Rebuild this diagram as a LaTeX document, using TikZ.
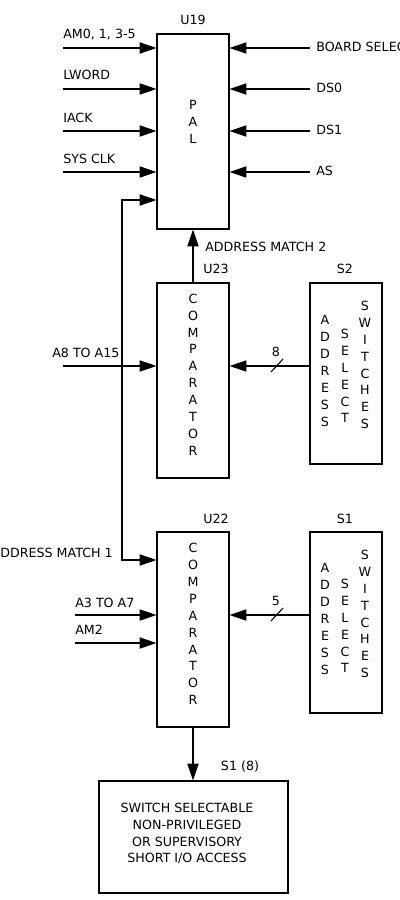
\documentclass[tikz,border=0pt]{standalone}
\usepackage{fontspec}
\setmainfont{DejaVu Sans}
\usetikzlibrary{arrows.meta}

\begin{document}
\begin{tikzpicture}
		[x=0.025cm,y=-0.025cm,
		font=\fontsize{9}{12}\selectfont,
		chip/.style={draw,thick,minimum width=1.8cm,inner sep=0pt},
		sig/.style={-{Triangle[length=0.42cm,width=0.28cm]},thick},
		sigs/.style={{Triangle[length=0.42cm,width=0.28cm]}-{Triangle[length=0.42cm,width=0.28cm]},thick},
		letters/.style={align=center,inner sep=0pt},
		lbl/.style={inner sep=0pt}]
		
		\useasboundingbox (0,0) rectangle (400,900);
		
		% boxes
		\node[chip,minimum height=4.875cm] (u19) at (193,131.5) {};
		\node[chip,minimum height=4.875cm] (u23) at (193,380.5) {};
		\node[chip,minimum height=4.875cm] (u22) at (193,629.5) {};
		\node[chip,minimum height=4.525cm] (s2) at (346,373.5) {};
		\node[chip,minimum height=4.525cm] (s1) at (346,622.5) {};
		\node[chip,minimum width=4.725cm,minimum height=2.8cm] (acc) at (193.5,837) {};
		
		\node[lbl] (u19name) at (193,20) {U19};
		\node[lbl] (u23name) at (216,269) {U23};
		\node[lbl] (u22name) at (216,519) {U22};
		\node[lbl] (s2name) at (345,269) {S2};
		\node[lbl] (s1name) at (345,519) {S1};
		
		\node[letters] (pal) at (193,122) {P\\A\\L};
		\node[letters] (cmp2) at (193,374.5) {C\\O\\M\\P\\A\\R\\A\\T\\O\\R};
		\node[letters] (cmp1) at (193,624) {C\\O\\M\\P\\A\\R\\A\\T\\O\\R};
		
		\node[letters] (adr2) at (325,371) {A\\D\\D\\R\\E\\S\\S};
		\node[letters] (sel2) at (345,376) {S\\E\\L\\E\\C\\T};
		\node[letters] (swi2) at (365,365) {S\\W\\I\\T\\C\\H\\E\\S};
		\node[letters] (adr1) at (325,619) {A\\D\\D\\R\\E\\S\\S};
		\node[letters] (sel1) at (345,626) {S\\E\\L\\E\\C\\T};
		\node[letters] (swi1) at (365,614) {S\\W\\I\\T\\C\\H\\E\\S};
		
		\node[letters] (acctext) at (187,833.5) {SWITCH SELECTABLE\\NON-PRIVILEGED\\OR SUPERVISORY\\SHORT I/O ACCESS};
		
		% PAL inputs, left side
		\foreach \n/\t/\y in {am/{AM0, 1, 3-5}/48, lw/LWORD/89, ia/IACK/131, sc/SYS CLK/172}{
			\coordinate (\n) at (63,\y);
			\draw[sig] (\n) -- (\n -| u19.west);
			\node[lbl,anchor=base west] at (63,\y-9) {\t};
		}
		
		% PAL inputs, right side
		\foreach \n/\t/\y in {bs/BOARD SELECT/48, dz/DS0/89, do/DS1/131, as/AS/172}{
			\coordinate (\n) at (310,\y);
			\draw[sig] (\n) -- (\n -| u19.east);
			\node[lbl,anchor=mid west] at (316,\y) {\t};
		}
		
		% address match 1 loop
		\coordinate (m1a) at (157,200);
		\coordinate (m1b) at (122,560);
		\draw[sigs] (m1a -| u19.west) -| (m1b) -- (m1b -| u22.west);
		\node[lbl,anchor=base east] (m1) at (113,557) {ADDRESS MATCH 1};
		
		% address match 2
		\draw[sig] (u23.north) -- (u19.south);
		\node[lbl,anchor=west] (m2) at (205,247) {ADDRESS MATCH 2};
		
		% comparator inputs
		\coordinate (a8) at (63,366);
		\draw[sig] (a8) -- (a8 -| u23.west);
		\node[lbl,anchor=base west] at (52,357) {A8 TO A15};
		
		\coordinate (a3) at (75,615);
		\draw[sig] (a3) -- (a3 -| u22.west);
		\node[lbl,anchor=base west] at (75,607) {A3 TO A7};
		
		\coordinate (a2) at (75,643);
		\draw[sig] (a2) -- (a2 -| u22.west);
		\node[lbl,anchor=base west] at (75,634) {AM2};
		
		% switch buses
		\draw[sig] (s2.west |- a8) -- (u23.east |- a8);
		\draw[thick] (271,372) -- (283,359);
		\node[lbl] at (276,352) {8};
		
		\draw[sig] (s1.west |- a3) -- (u22.east |- a3);
		\draw[thick] (271,621) -- (283,608);
		\node[lbl] at (276,601) {5};
		
		% output
		\draw[sig] (u22.south) -- (acc.north -| u22.south);
		\node[lbl] (s18) at (240,767) {S1 (8)};
		
		\end{tikzpicture}
\end{document}
